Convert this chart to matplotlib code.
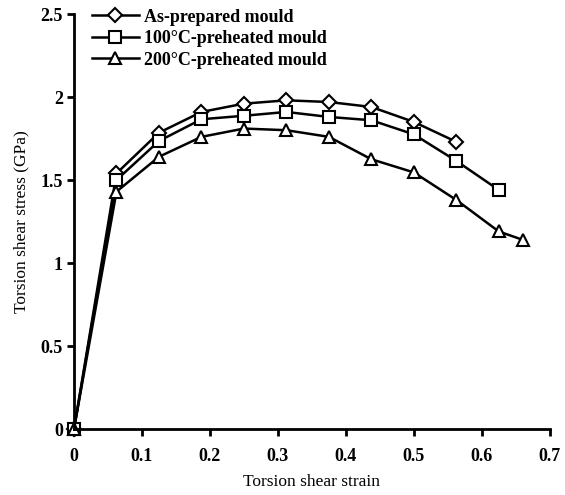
import matplotlib.pyplot as plt

plt.rcParams['font.family'] = ['Liberation Serif', 'DejaVu Serif']

strain_a = [0, 0.0625, 0.125, 0.1875, 0.25, 0.3125, 0.375, 0.4375, 0.5, 0.5625]
stress_a = [0, 1.54, 1.785, 1.91, 1.96, 1.98, 1.97, 1.94, 1.85, 1.73]

strain_b = [0, 0.0625, 0.125, 0.1875, 0.25, 0.3125, 0.375, 0.4375, 0.5, 0.5625, 0.625]
stress_b = [0, 1.50, 1.735, 1.866, 1.887, 1.91, 1.88, 1.86, 1.775, 1.615, 1.44]

strain_c = [0, 0.0625, 0.125, 0.1875, 0.25, 0.3125, 0.375, 0.4375, 0.5, 0.5625, 0.625, 0.66]
stress_c = [0, 1.43, 1.64, 1.76, 1.81, 1.80, 1.76, 1.625, 1.546, 1.38, 1.19, 1.14]

labels = ['As-prepared mould', '100\u00b0C-preheated mould', '200\u00b0C-preheated mould']
xticks = [0, 0.1, 0.2, 0.3, 0.4, 0.5, 0.6, 0.7]
yticks = [0, 0.5, 1, 1.5, 2, 2.5]

fig = plt.figure(figsize=(5.65, 4.95), dpi=100)
ax = fig.add_axes([0.131, 0.1333, 0.842, 0.8384])

kw = dict(color='black', lw=1.8, mfc='white', mec='black', mew=1.5, clip_on=False)
ax.plot(strain_a, stress_a, marker='D', ms=7, label=labels[0], **kw)
ax.plot(strain_b, stress_b, marker='s', ms=8, label=labels[1], **kw)
ax.plot(strain_c, stress_c, marker='^', ms=8, label=labels[2], **kw)

ax.set_xlim(0, 0.7)
ax.set_ylim(0, 2.5)
ax.set_xticks(xticks)
ax.set_xticklabels(['0' if t == 0 else str(t) for t in xticks], fontweight='bold')
ax.set_yticks(yticks)
ax.set_yticklabels(['0' if t == 0 else ('%g' % t) for t in yticks], fontweight='bold')
ax.tick_params(labelsize=13, width=2, length=5, direction='out')
ax.tick_params(axis='x', pad=9)
ax.tick_params(axis='y', pad=3)

for s in ['top', 'right']:
    ax.spines[s].set_visible(False)
for s in ['left', 'bottom']:
    ax.spines[s].set_linewidth(2)

ax.set_xlabel('Torsion shear strain', fontsize=12.5, labelpad=6)
ax.set_ylabel('Torsion shear stress (GPa)', fontsize=12.5, labelpad=8)

ax.legend(loc='upper left', bbox_to_anchor=(0.022, 1.03), frameon=False,
          prop={'size': 13, 'weight': 'bold'}, handlelength=2.6,
          handletextpad=0.3, labelspacing=0.25, borderaxespad=0)

fig.savefig('out.png', dpi=100)
